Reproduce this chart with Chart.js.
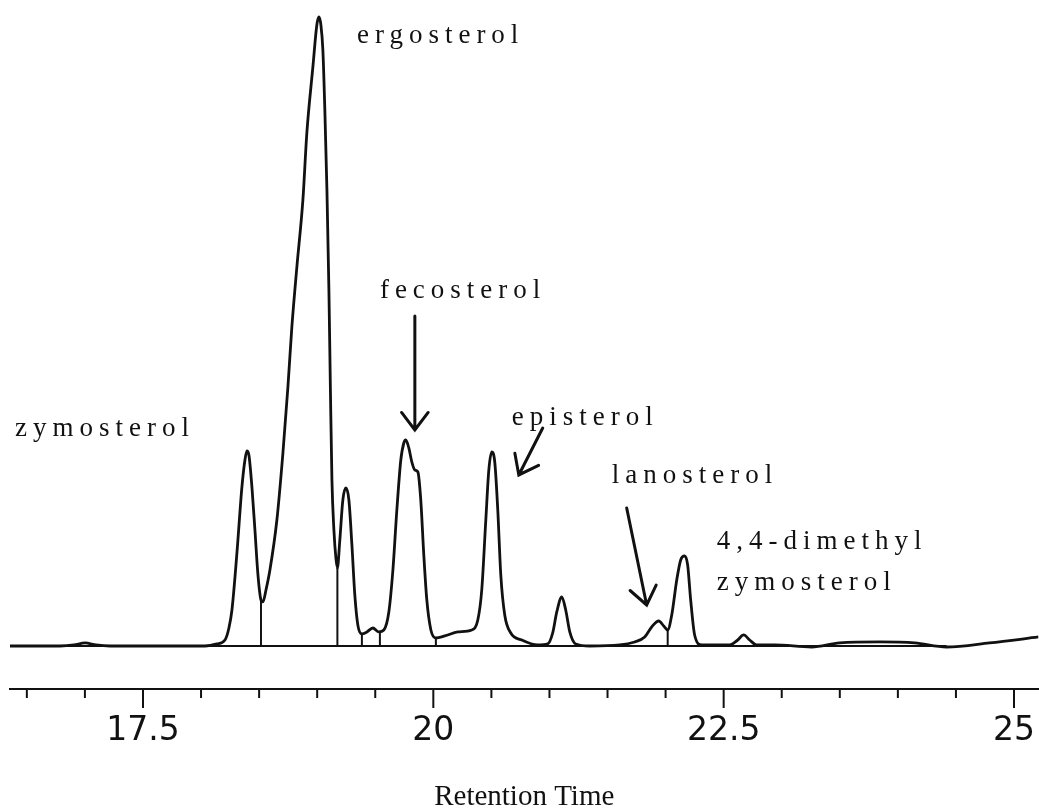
<!DOCTYPE html>
<html>
<head>
<meta charset="utf-8">
<title>Sterol chromatogram</title>
<script src="https://cdn.jsdelivr.net/npm/chart.js@4.4.1/dist/chart.umd.min.js"></script>
<style>
  html, body { margin: 0; padding: 0; background: #fff; }
  #wrap { width: 1039px; height: 811px; }
</style>
</head>
<body>
<div id="wrap"><canvas id="chromChart" width="1039" height="811"></canvas></div>
<script>
// Trace: retention time (min) vs detector signal (ergosterol peak = 100)
const retentionTimes = [
  16.355, 16.786, 16.906, 17.001, 17.096, 17.216, 17.646, 18.034, 18.137, 18.206,
  18.240, 18.266, 18.309, 18.352, 18.378, 18.395, 18.412, 18.438, 18.464, 18.490,
  18.516, 18.533, 18.559, 18.593, 18.653, 18.705, 18.748, 18.782, 18.825, 18.877,
  18.911, 18.963, 18.997, 19.015, 19.032, 19.049, 19.066, 19.084, 19.101, 19.114,
  19.127, 19.144, 19.161, 19.174, 19.195, 19.221, 19.247, 19.273, 19.299, 19.324,
  19.350, 19.385, 19.428, 19.479, 19.531, 19.574, 19.617, 19.652, 19.686, 19.720,
  19.746, 19.763, 19.789, 19.815, 19.841, 19.867, 19.892, 19.918, 19.944, 19.979,
  20.022, 20.099, 20.211, 20.331, 20.383, 20.417, 20.452, 20.478, 20.503, 20.529,
  20.555, 20.581, 20.615, 20.667, 20.762, 20.899, 20.985, 21.028, 21.063, 21.106,
  21.140, 21.175, 21.226, 21.347, 21.605, 21.734, 21.820, 21.880, 21.941, 21.984,
  22.018, 22.053, 22.096, 22.130, 22.164, 22.190, 22.216, 22.250, 22.311, 22.552,
  22.621, 22.672, 22.724, 22.784, 22.939, 23.257, 23.498, 23.843, 24.144, 24.419,
  24.789, 25.211
];
const signal = [
  0, 0, 0.16, 0.48, 0.16, 0, 0, 0, 0.32, 0.95,
  2.86, 5.72, 14.79, 25.28, 29.57, 31.00, 30.37, 25.28, 18.44, 11.29,
  7.31, 7.00, 8.90, 12.08, 20.03, 30.68, 41.18, 50.72, 60.25, 70.91,
  81.56, 92.05, 98.73, 100, 98.73, 94.75, 85.21, 72.50, 56.60, 40.70,
  26.39, 18.44, 13.99, 12.40, 16.85, 23.21, 25.12, 23.21, 16.06, 8.11,
  3.34, 1.91, 2.23, 2.86, 2.23, 2.54, 5.41, 12.08, 21.62, 29.57,
  32.27, 32.75, 31.48, 29.25, 27.98, 27.66, 23.21, 14.47, 7.31, 2.54,
  1.27, 1.59, 2.23, 2.54, 4.13, 8.90, 20.03, 27.98, 30.84, 29.25,
  21.62, 11.29, 4.93, 2.07, 0.95, 0.16, 0.32, 2.07, 5.41, 7.79,
  5.72, 2.23, 0.32, 0, 0.16, 0.64, 1.43, 3.02, 3.97, 3.18,
  2.54, 4.93, 10.49, 13.67, 14.31, 12.88, 7.31, 1.75, 0.16, 0.16,
  0.95, 1.75, 0.95, 0.16, 0.16, -0.16, 0.48, 0.64, 0.48, -0.16,
  0.48, 1.43
];

// integration drop lines at the valleys
const dropTimes = [18.516, 19.174, 19.385, 19.540, 20.022, 22.018];
const dropHeights = [7.31, 12.40, 1.91, 2.23, 1.27, 2.54];

// drawn integration baseline
const baselineStart = 16.355;
const baselineEnd = 24.419;

// axis ticks
const tickValues = [16.5, 17, 17.5, 18, 18.5, 19, 19.5, 20, 20.5, 21, 21.5, 22, 22.5, 23, 23.5, 24, 24.5, 25];
const majorTicks = [17.5, 20, 22.5, 25];

// peak names, anchored in data units (time, signal)
const peakLabels = [
  { text: 'ergosterol', t: 19.342, s: 95.87 },
  { text: 'fecosterol', t: 19.540, s: 55.33 },
  { text: 'zymosterol', t: 16.398, s: 33.39 },
  { text: 'episterol', t: 20.676, s: 35.14 },
  { text: 'lanosterol', t: 21.536, s: 25.91 },
  { text: '4,4-dimethyl', t: 22.440, s: 15.42 },
  { text: 'zymosterol', t: 22.440, s: 8.90 }
];
const arrows = [
  { from: [19.841, 52.46], to: [19.841, 34.34] },
  { from: [20.942, 34.66], to: [20.736, 27.19] },
  { from: [21.665, 21.94], to: [21.837, 6.52] }
];

const ink = '#111111';

const dropPoints = [];
dropTimes.forEach((t, i) => {
  dropPoints.push({ x: t, y: 0 }, { x: t, y: dropHeights[i] }, { x: t, y: null });
});

// tick marks: long at labelled ticks, short otherwise
const tickMarks = {
  id: 'tickMarks',
  afterDraw(chart) {
    const sx = chart.scales.x;
    const c = chart.ctx;
    c.save();
    c.strokeStyle = ink;
    c.lineWidth = 2;
    sx.ticks.forEach(tk => {
      const px = sx.getPixelForValue(tk.value);
      const len = majorTicks.includes(tk.value) ? 19 : 9;
      c.beginPath();
      c.moveTo(px, sx.top);
      c.lineTo(px, sx.top + len);
      c.stroke();
    });
    c.restore();
  }
};

const peakNotes = {
  id: 'peakNotes',
  afterDatasetsDraw(chart) {
    const sx = chart.scales.x, sy = chart.scales.y;
    const c = chart.ctx;
    c.save();
    c.fillStyle = ink;
    c.font = '27px "Liberation Serif", "Times New Roman", serif';
    c.letterSpacing = '6px';
    c.textBaseline = 'alphabetic';
    c.textAlign = 'left';
    peakLabels.forEach(l => {
      c.fillText(l.text, sx.getPixelForValue(l.t), sy.getPixelForValue(l.s));
    });
    c.letterSpacing = '0px';

    c.strokeStyle = ink;
    c.lineWidth = 3;
    c.lineCap = 'round';
    arrows.forEach(a => {
      const x0 = sx.getPixelForValue(a.from[0]), y0 = sy.getPixelForValue(a.from[1]);
      const x1 = sx.getPixelForValue(a.to[0]), y1 = sy.getPixelForValue(a.to[1]);
      const ang = Math.atan2(y1 - y0, x1 - x0);
      const head = 22, spread = 0.65;
      c.beginPath();
      c.moveTo(x0, y0);
      c.lineTo(x1, y1);
      c.moveTo(x1 - head * Math.cos(ang - spread), y1 - head * Math.sin(ang - spread));
      c.lineTo(x1, y1);
      c.lineTo(x1 - head * Math.cos(ang + spread), y1 - head * Math.sin(ang + spread));
      c.stroke();
    });
    c.restore();
  }
};

const ctx = document.getElementById('chromChart').getContext('2d');
new Chart(ctx, {
  type: 'line',
  data: {
    datasets: [
      {
        label: 'Signal',
        data: retentionTimes.map((t, i) => ({ x: t, y: signal[i] })),
        borderColor: ink,
        borderWidth: 2.8,
        pointRadius: 0,
        cubicInterpolationMode: 'monotone',
        fill: false
      },
      {
        label: 'Baseline',
        data: [{ x: baselineStart, y: 0 }, { x: baselineEnd, y: 0 }],
        borderColor: ink,
        borderWidth: 2,
        pointRadius: 0,
        tension: 0
      },
      {
        label: 'Drops',
        data: dropPoints,
        borderColor: ink,
        borderWidth: 2,
        pointRadius: 0,
        tension: 0,
        spanGaps: false
      }
    ]
  },
  options: {
    responsive: false,
    animation: false,
    layout: { padding: { left: 10, right: 0, top: 0, bottom: 0 } },
    plugins: { legend: { display: false }, tooltip: { enabled: false } },
    scales: {
      x: {
        type: 'linear',
        min: 16.355,
        max: 25.211,
        afterBuildTicks: (scale) => { scale.ticks = tickValues.map(v => ({ value: v })); },
        afterFit: (scale) => { scale.height = 122; },
        grid: { color: 'rgba(0,0,0,0)', drawOnChartArea: false, tickLength: 19 },
        border: { display: true, color: ink, width: 2 },
        ticks: {
          padding: 4,
          color: ink,
          autoSkip: false,
          maxRotation: 0,
          font: { family: '"DejaVu Sans", sans-serif', size: 33 },
          callback: (v) => majorTicks.includes(v) ? String(v) : ''
        },
        title: {
          display: true,
          text: 'Retention Time',
          color: ink,
          padding: { top: 0, bottom: -4 },
          font: { family: '"Liberation Serif", "Times New Roman", serif', size: 29 }
        }
      },
      y: { display: false, min: -6.84, max: 102.7 }
    }
  },
  plugins: [tickMarks, peakNotes]
});
</script>
</body>
</html>
